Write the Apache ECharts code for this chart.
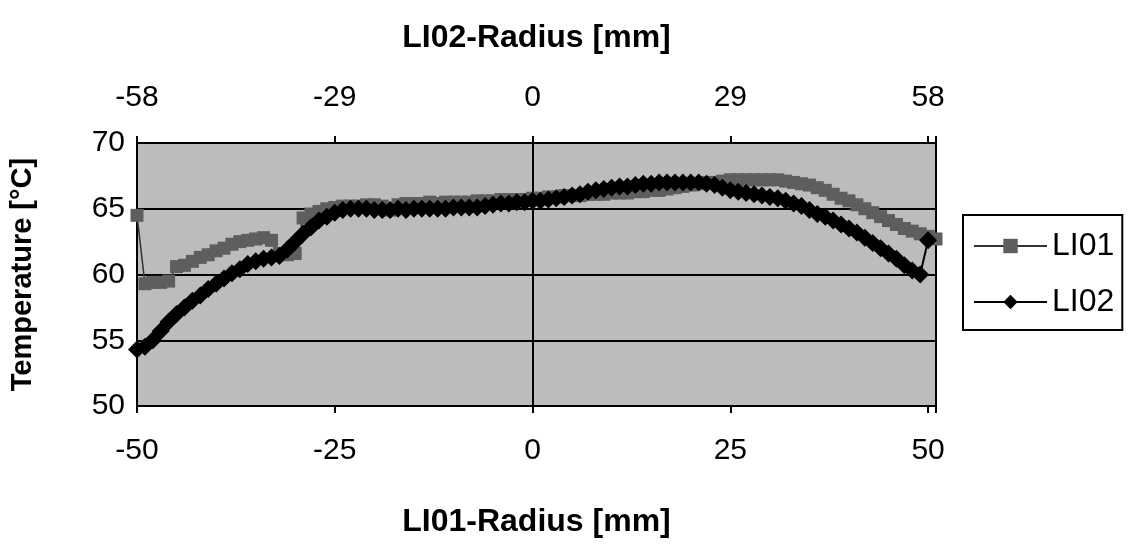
<!DOCTYPE html>
<html>
<head>
<meta charset="utf-8">
<script src="https://cdn.jsdelivr.net/npm/echarts@6/dist/echarts.min.js"></script>
<style>
  html, body { margin: 0; padding: 0; background: #fff; }
  #chart { width: 1130px; height: 544px; }
</style>
</head>
<body>
<div id="chart"></div>
<script>
// radius positions in mm (LI01 axis)
const radius = [
  -50, -49, -48, -47, -46, -45, -44, -43, -42, -41,
  -40, -39, -38, -37, -36, -35, -34, -33, -32, -31,
  -30, -29, -28, -27, -26, -25, -24, -23, -22, -21,
  -20, -19, -18, -17, -16, -15, -14, -13, -12, -11,
  -10, -9, -8, -7, -6, -5, -4, -3, -2, -1,
  0, 1, 2, 3, 4, 5, 6, 7, 8, 9,
  10, 11, 12, 13, 14, 15, 16, 17, 18, 19,
  20, 21, 22, 23, 24, 25, 26, 27, 28, 29,
  30, 31, 32, 33, 34, 35, 36, 37, 38, 39,
  40, 41, 42, 43, 44, 45, 46, 47, 48, 49,
  50, 51
];

const li01 = [
  64.5, 59.3, 59.4, 59.4, 59.5, 60.6, 60.7, 61.0, 61.3, 61.5,
  61.8, 62.0, 62.3, 62.5, 62.6, 62.7, 62.8, 62.6, 61.6, 61.5,
  61.6, 64.3, 64.6, 64.8, 65.0, 65.1, 65.2, 65.2, 65.2, 65.3,
  65.3, 65.2, 64.9, 65.3, 65.4, 65.4, 65.4, 65.5, 65.4, 65.5,
  65.5, 65.5, 65.5, 65.6, 65.6, 65.6, 65.7, 65.7, 65.7, 65.7,
  65.8, 65.8, 65.9, 65.9, 66.0, 66.0, 66.0, 66.1, 66.1, 66.1,
  66.2, 66.2, 66.2, 66.3, 66.3, 66.4, 66.4, 66.5, 66.6, 66.7,
  66.8, 66.9, 67.0, 67.0, 67.1, 67.2, 67.2, 67.2, 67.2, 67.2,
  67.2, 67.2, 67.1, 67.0, 66.9, 66.8, 66.6, 66.4, 66.1, 65.8,
  65.6, 65.3, 65.0, 64.7, 64.4, 64.1, 63.8, 63.5, 63.3, 63.1,
  62.9, 62.7
];

const li02 = [
  54.3, 54.5, 55.0, 55.7, 56.4, 57.0, 57.5, 58.0, 58.4, 58.9,
  59.3, 59.7, 60.1, 60.4, 60.8, 61.0, 61.2, 61.3, 61.4, 61.9,
  62.5, 63.1, 63.6, 64.1, 64.4, 64.7, 64.9, 65.0, 65.0, 65.0,
  64.9, 64.9, 64.9, 65.0, 64.9, 65.0, 65.0, 65.0, 65.0, 65.0,
  65.1, 65.1, 65.1, 65.1, 65.2, 65.3, 65.4, 65.4, 65.5, 65.5,
  65.6, 65.6, 65.7, 65.8, 65.9, 66.0, 66.1, 66.3, 66.4, 66.5,
  66.6, 66.7, 66.7, 66.8, 66.9, 66.9, 67.0, 67.0, 67.0, 67.0,
  67.0, 67.0, 66.9, 66.8, 66.6, 66.4, 66.3, 66.2, 66.1, 66.0,
  65.9, 65.8, 65.6, 65.4, 65.2, 64.9, 64.6, 64.4, 64.1, 63.8,
  63.5, 63.2, 62.8, 62.4, 62.0, 61.6, 61.2, 60.7, 60.3, 60.0,
  62.6
];

// axis ticks
const bottomTicks = { min: -50, max: 51, step: 25 };
const topTicks = { min: -58, max: 58 * 51 / 50, step: 29 };
const tempTicks = { min: 50, max: 70, step: 5 };

const font = '"Liberation Sans", Arial, sans-serif';

const chart = echarts.init(document.getElementById('chart'));

const option = {
  backgroundColor: '#fff',
  animation: false,
  textStyle: { fontFamily: font },
  grid: {
    left: 136,
    right: 194,
    top: 143,
    bottom: 138,
    show: true,
    backgroundColor: '#bcbcbc',
    borderColor: '#000',
    borderWidth: 2,
  },
  legend: {
    data: ['LI01', 'LI02'],
    orient: 'vertical',
    left: 963,
    top: 215,
    backgroundColor: '#fff',
    borderColor: '#000',
    borderWidth: 2,
    borderRadius: 0,
    padding: [15, 8, 12, 10],
    itemWidth: 73,
    itemHeight: 18,
    itemGap: 24,
    textStyle: { fontSize: 32, color: '#000', fontFamily: font },
  },
  xAxis: [
    {
      type: 'value',
      position: 'bottom',
      min: bottomTicks.min,
      max: bottomTicks.max,
      interval: bottomTicks.step,
      name: 'LI01-Radius [mm]',
      nameLocation: 'middle',
      nameGap: 100,
      nameTextStyle: { fontSize: 32, fontWeight: 'bold', color: '#000' },
      axisLine: { show: true, lineStyle: { color: '#000', width: 2 } },
      axisTick: { show: true, length: 7, lineStyle: { color: '#000', width: 2 } },
      axisLabel: {
        fontSize: 30,
        color: '#000',
        margin: 30,
        formatter: (v) => (v % bottomTicks.step === 0 ? String(v) : ''),
      },
      splitLine: { show: false },
    },
    {
      type: 'value',
      position: 'top',
      min: topTicks.min,
      max: topTicks.max,
      interval: topTicks.step,
      name: 'LI02-Radius [mm]',
      nameLocation: 'middle',
      nameGap: 89,
      nameTextStyle: { fontSize: 32, fontWeight: 'bold', color: '#000' },
      axisLine: { show: true, lineStyle: { color: '#000', width: 2 } },
      axisTick: { show: true, length: 7, lineStyle: { color: '#000', width: 2 } },
      axisLabel: {
        fontSize: 30,
        color: '#000',
        margin: 30,
        formatter: (v) => (v % topTicks.step === 0 ? String(v) : ''),
      },
      splitLine: { show: false },
    },
  ],
  yAxis: {
    type: 'value',
    min: tempTicks.min,
    max: tempTicks.max,
    interval: tempTicks.step,
    name: 'Temperature [°C]',
    nameLocation: 'middle',
    nameGap: 100,
    nameTextStyle: { fontSize: 29, fontWeight: 'bold', color: '#000' },
    axisLine: { show: true, lineStyle: { color: '#000', width: 2 } },
    axisTick: { show: true, length: 6, lineStyle: { color: '#000', width: 2 } },
    axisLabel: { fontSize: 30, color: '#000', margin: 12 },
    splitLine: { show: true, lineStyle: { color: '#000', width: 2 } },
  },
  series: [
    {
      name: 'LI01',
      type: 'line',
      xAxisIndex: 0,
      symbol: 'rect',
      symbolSize: 13,
      showAllSymbol: true,
      itemStyle: { color: '#5e5e5e' },
      lineStyle: { color: '#333', width: 1.5 },
      data: radius.map((r, i) => [r, li01[i]]),
    },
    {
      name: 'LI02',
      type: 'line',
      xAxisIndex: 0,
      symbol: 'diamond',
      symbolSize: [18, 18],
      showAllSymbol: true,
      itemStyle: { color: '#000' },
      lineStyle: { color: '#000', width: 2 },
      data: li02.map((t, i) => [radius[i], t]),
    },
  ],
};

chart.setOption(option);
</script>
</body>
</html>
